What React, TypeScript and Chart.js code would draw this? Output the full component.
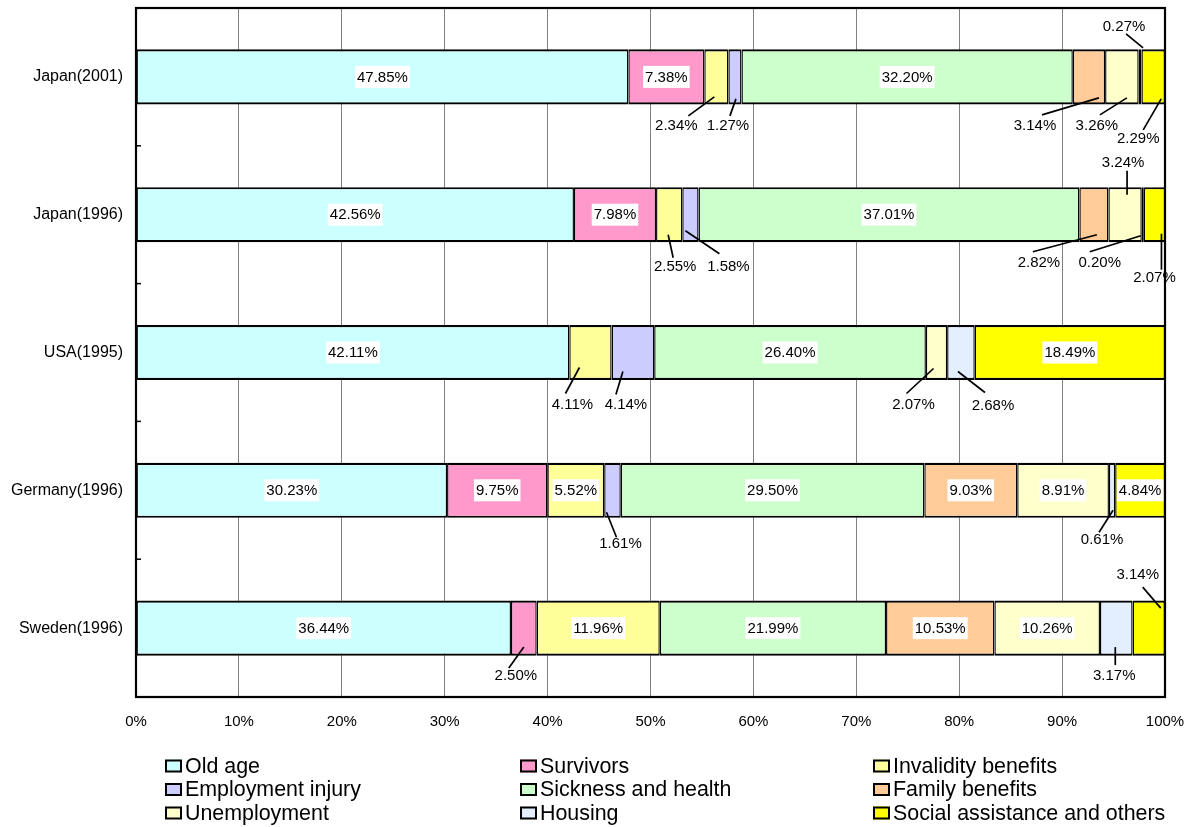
import React, { useEffect, useRef } from 'react';
import { Chart, registerables } from 'chart.js';

Chart.register(...registerables);

const FONT = '"Liberation Sans", Arial, Helvetica, sans-serif';

// ---- Data ----
const categories = ['Japan(2001)', 'Japan(1996)', 'USA(1995)', 'Germany(1996)', 'Sweden(1996)'];
const seriesNames = [
  'Old age', 'Survivors', 'Invalidity benefits',
  'Employment injury', 'Sickness and health', 'Family benefits',
  'Unemployment', 'Housing', 'Social assistance and others',
];
const oldAge = [47.85, 42.56, 42.11, 30.23, 36.44];
const survivors = [7.38, 7.98, 0, 9.75, 2.50];
const invalidity = [2.34, 2.55, 4.11, 5.52, 11.96];
const employmentInjury = [1.27, 1.58, 4.14, 1.61, 0];
const sicknessHealth = [32.20, 37.01, 26.40, 29.50, 21.99];
const familyBenefits = [3.14, 2.82, 0, 9.03, 10.53];
const unemployment = [3.26, 3.24, 2.07, 8.91, 10.26];
const housing = [0.27, 0.20, 2.68, 0.61, 3.17];
const socialAssistance = [2.29, 2.07, 18.49, 4.84, 3.14];
const xTickValues = [0, 10, 20, 30, 40, 50, 60, 70, 80, 90, 100];

const seriesValues = [
  oldAge, survivors, invalidity, employmentInjury, sicknessHealth,
  familyBenefits, unemployment, housing, socialAssistance,
];

// ---- Styles ----
const seriesColors = [
  '#CCFFFF', '#FF99CC', '#FFFF99', '#CCCCFF', '#CCFFCC',
  '#FFCC99', '#FFFFCC', '#E3EFFF', '#FFFF00',
];

// label placement for small segments (offsets relative to segment centre / bar centre)
type Place = { lx: number; ly: number; sx: number; sy: number; ex: number; ey: number };
const outsideLabels: Record<string, Place> = {
  '0-2': { lx: -40, ly: 49, sx: 12, sy: -10, ex: -2, ey: 20 },
  '0-3': { lx: -7, ly: 49, sx: 2, sy: -10, ex: 1, ey: 22 },
  '0-5': { lx: -54, ly: 49, sx: 7, sy: -11, ex: 10, ey: 21 },
  '0-6': { lx: -25, ly: 49, sx: 3, sy: -11, ex: 5, ey: 21 },
  '0-7': { lx: -16, ly: -50, sx: 2, sy: 7, ex: 3, ey: -29 },
  '0-8': { lx: -15, ly: 62, sx: 5, sy: -9, ex: 8, ey: 22 },
  '1-2': { lx: 6, ly: 52, sx: -2, sy: -9, ex: -1, ey: 20 },
  '1-3': { lx: 38, ly: 52, sx: -9, sy: -13, ex: -5, ey: 16 },
  '1-5': { lx: -55, ly: 48, sx: -6, sy: -11, ex: 3, ey: 20 },
  '1-6': { lx: -2, ly: -52, sx: 4, sy: 8, ex: 2, ey: -20 },
  '1-7': { lx: -43, ly: 48, sx: -10, sy: -11, ex: -2, ey: 21 },
  '1-8': { lx: 0, ly: 63, sx: 7, sy: -8, ex: 7, ey: 19 },
  '2-2': { lx: -18, ly: 52, sx: -7, sy: -11, ex: -11, ey: 15 },
  '2-3': { lx: -7, ly: 52, sx: -10, sy: -10, ex: -10, ey: 19 },
  '2-6': { lx: -23, ly: 52, sx: -7, sy: -11, ex: -3, ey: 16 },
  '2-7': { lx: 32, ly: 53, sx: -8, sy: -13, ex: -3, ey: 19 },
  '3-3': { lx: 8, ly: 54, sx: -4, sy: -7, ex: -6, ey: 22 },
  '3-7': { lx: -10, ly: 50, sx: -3, sy: -8, ex: 1, ey: 20 },
  '4-1': { lx: -8, ly: 48, sx: -7, sy: -8, ex: 0, ey: 19 },
  '4-7': { lx: -2, ly: 48, sx: 1, sy: -11, ex: -1, ey: 19 },
  '4-8': { lx: -11, ly: -53, sx: 5, sy: 12, ex: 12, ey: -20 },
};

const legendCols = [165, 520, 873];
const legendRows = [766, 789.5, 813];

const framePlugin = {
  id: 'frameAndLabels',
  afterDatasetsDraw(chart: any) {
    const { ctx, chartArea } = chart;
    const { left, right, top, bottom } = chartArea;
    ctx.save();
    // inward category tick marks
    ctx.strokeStyle = '#000';
    ctx.lineWidth = 1.5;
    const n = categories.length;
    for (let k = 1; k < n; k++) {
      const yy = top + ((bottom - top) * k) / n;
      ctx.beginPath();
      ctx.moveTo(left, yy);
      ctx.lineTo(left + 5, yy);
      ctx.stroke();
    }
    // frame
    ctx.lineWidth = 2.2;
    ctx.strokeRect(left, top, right - left, bottom - top);

    // data labels
    ctx.font = `15px ${FONT}`;
    ctx.textAlign = 'center';
    ctx.textBaseline = 'middle';
    chart.data.datasets.forEach((ds: any, si: number) => {
      const meta = chart.getDatasetMeta(si);
      meta.data.forEach((el: any, ci: number) => {
        const v = ds.data[ci];
        if (v == null) return;
        const text = Number(v).toFixed(2) + '%';
        const { x, base, y } = el.getProps(['x', 'base', 'y'], true);
        const cx = (x + base) / 2;
        const p = outsideLabels[`${ci}-${si}`];
        if (p) {
          const lx = cx + p.lx;
          const ly = y + p.ly;
          ctx.strokeStyle = '#000';
          ctx.lineWidth = 1.7;
          ctx.beginPath();
          ctx.moveTo(lx + p.sx, ly + p.sy);
          ctx.lineTo(cx + p.ex, y + p.ey);
          ctx.stroke();
          ctx.fillStyle = '#000';
          ctx.fillText(text, lx, ly);
        } else {
          const w = ctx.measureText(text).width + 4;
          ctx.fillStyle = '#FFFFFF';
          ctx.fillRect(cx - w / 2, y - 11, w, 22);
          ctx.fillStyle = '#000';
          ctx.fillText(text, cx, y + 0.5);
        }
      });
    });
    ctx.restore();
  },
  afterDraw(chart: any) {
    const { ctx } = chart;
    ctx.save();
    ctx.font = `21.4px ${FONT}`;
    ctx.textAlign = 'left';
    ctx.textBaseline = 'middle';
    seriesNames.forEach((name, i) => {
      const bx = legendCols[i % 3];
      const by = legendRows[Math.floor(i / 3)];
      ctx.fillStyle = seriesColors[i];
      ctx.fillRect(bx, by - 6.5, 17, 13);
      ctx.strokeStyle = '#000';
      ctx.lineWidth = 2;
      ctx.strokeRect(bx + 1, by - 5.5, 15, 11);
      ctx.fillStyle = '#000';
      ctx.fillText(name, bx + 20, by + 1);
    });
    ctx.restore();
  },
};

export default function App() {
  const canvasRef = useRef<HTMLCanvasElement | null>(null);

  useEffect(() => {
    if (!canvasRef.current) return;
    const chart = new Chart(canvasRef.current, {
      type: 'bar',
      data: {
        labels: categories,
        datasets: seriesNames.map((name, i) => ({
          label: name,
          data: seriesValues[i].map((v) => (v === 0 ? null : v)),
          backgroundColor: seriesColors[i],
          borderColor: '#000000',
          borderWidth: { top: 2.2, bottom: 2.2, left: 1.4, right: 1.4 },
          borderSkipped: false,
          inflateAmount: 0,
          barPercentage: 0.4,
          categoryPercentage: 1,
        })),
      },
      options: {
        indexAxis: 'y',
        animation: false,
        responsive: false,
        maintainAspectRatio: false,
        layout: { padding: { left: 0, right: 29, top: 8, bottom: 90 } },
        plugins: {
          legend: { display: false },
          tooltip: { enabled: false },
        },
        scales: {
          x: {
            type: 'linear',
            stacked: true,
            min: 0,
            max: 100,
            afterBuildTicks: (s: any) => {
              s.ticks = xTickValues.map((v) => ({ value: v }));
            },
            ticks: {
              callback: (v: any) => `${v}%`,
              color: '#000',
              font: { family: FONT, size: 15 },
              padding: 16,
              maxRotation: 0,
              autoSkip: false,
            },
            grid: { color: '#808080', lineWidth: 1, drawTicks: false },
            border: { display: false },
            afterFit: (s: any) => {
              s.height = 40;
              s.paddingLeft = 0;
              s.paddingRight = 0;
            },
          },
          y: {
            type: 'category',
            stacked: true,
            grid: { display: false, drawTicks: false },
            border: { display: false },
            ticks: {
              color: '#000',
              font: { family: FONT, size: 16 },
              padding: 13,
            },
            afterFit: (s: any) => {
              s.width = 136;
              s.paddingTop = 0;
              s.paddingBottom = 0;
            },
          },
        },
      },
      plugins: [framePlugin],
    } as any);
    return () => chart.destroy();
  }, []);

  return (
    <div style={{ position: 'fixed', left: 0, top: 0, width: 1194, height: 827, background: '#fff' }}>
      <canvas ref={canvasRef} width={1194} height={827} style={{ display: 'block' }} />
    </div>
  );
}
